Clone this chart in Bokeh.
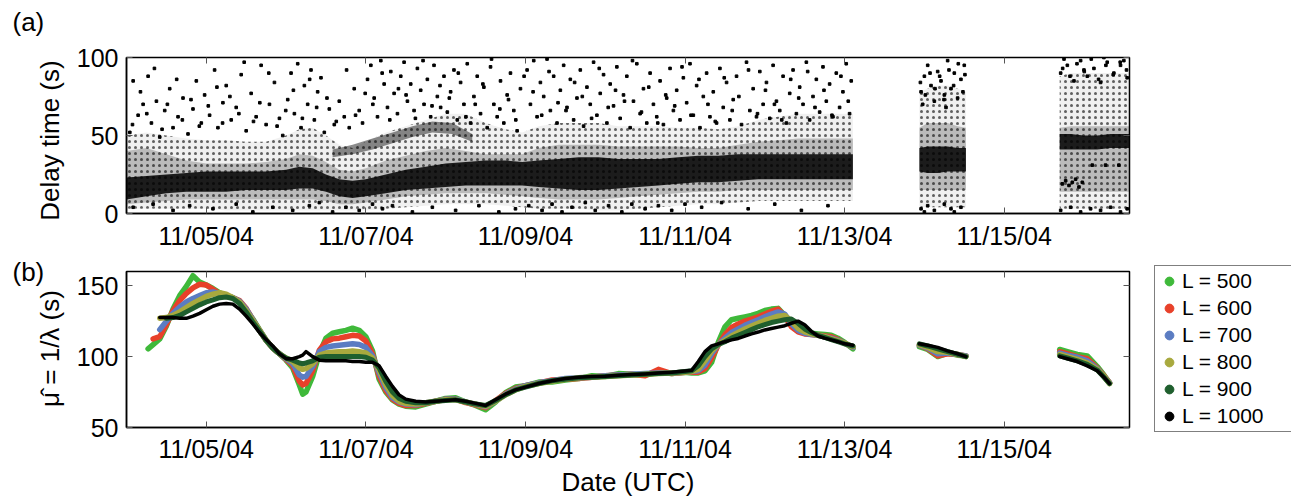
import numpy as np
import pandas as pd
from bokeh.plotting import figure
from bokeh.layouts import column, row
from bokeh.models import (FixedTicker, DatetimeTickFormatter, LinearAxis, DatetimeAxis,
                          Legend, LegendItem, Range1d)
from bokeh.embed import file_html
from bokeh.resources import INLINE

nan = float("nan")
FONT = "Liberation Sans"

# ---------------- data ----------------
# time in hours since 2004-11-04 00:00 UTC
x_ticks_h = [24, 72, 120, 168, 216, 264]
ya_ticks = [0, 50, 100]
yb_ticks = [50, 100, 150]

# Panel (a): density bands of the delay-time cloud (NaN separates data blocks)
band_t = [0, 6, 12, 18, 24, 30, 36, 42, 48, 52, 56, 60, 64, 68, 72, 78, 84, 90, 96, 102,
          108, 114, 119, 124, 130, 136, 142, 148, 154, 160, 166, 172, 178, 184, 190, 196, 202, 208, 214, 218.5,
          nan, 238.5, 241, 244, 247, 250, 252.5,
          nan, 280.7, 284, 288, 292, 296, 300, 301.8]
core_lo = [9, 11, 13, 14, 14, 14, 15, 15, 15, 16, 16, 14, 11, 10, 11, 13, 15, 16, 17, 18,
           18, 18, 18, 17, 16, 15, 15, 16, 17, 18, 19, 20, 20, 21, 22, 22, 22, 22, 22, 22,
           nan, 27, 26, 26, 27, 27, 27,
           nan, 41, 41, 41, 41, 42, 42, 42]
core_hi = [23, 24, 25, 26, 27, 27, 27, 27, 28, 30, 29, 25, 22, 21, 22, 25, 28, 30, 32, 33,
           34, 34, 33, 34, 35, 36, 36, 35, 35, 35, 36, 37, 37, 38, 38, 38, 38, 38, 38, 38,
           nan, 42, 43, 43, 43, 42, 42,
           nan, 51, 51, 50, 50, 51, 51, 51]
mid_lo = [6, 7, 8, 9, 9, 9, 9, 9, 9, 9, 9, 8, 6, 6, 7, 9, 11, 12, 13, 13,
          13, 12, 11, 10, 9, 9, 9, 10, 11, 12, 13, 14, 14, 15, 15, 15, 15, 15, 15, 15,
          nan, 15, 15, 15, 15, 15, 15,
          nan, 14, 14, 14, 14, 14, 14, 14]
mid_hi = [40, 42, 38, 34, 32, 32, 32, 33, 35, 38, 37, 33, 28, 27, 29, 34, 37, 40, 42, 40,
          38, 38, 38, 42, 44, 44, 44, 43, 43, 43, 43, 42, 42, 44, 46, 47, 48, 48, 48, 48,
          nan, 55, 58, 58, 58, 56, 55,
          nan, 55, 56, 56, 56, 56, 56, 56]
halo_lo = [3, 3, 3, 3, 3, 2, 2, 2, 2, 2, 2, 2, 2, 2, 2, 3, 4, 5, 6, 6,
           6, 5, 4, 3, 3, 3, 2, 2, 3, 4, 5, 6, 6, 7, 8, 8, 8, 8, 8, 8,
           nan, 4, 4, 4, 4, 4, 4,
           nan, 3, 3, 3, 3, 3, 3, 3]
halo_hi = [50, 52, 50, 48, 47, 47, 46, 46, 50, 54, 55, 50, 44, 42, 46, 52, 56, 60, 64, 64,
           58, 54, 52, 56, 58, 58, 58, 56, 56, 56, 55, 55, 54, 56, 60, 62, 64, 64, 64, 64,
           nan, 78, 80, 82, 82, 80, 78,
           nan, 88, 90, 90, 90, 90, 90, 90]
streak_t = [62, 68, 74, 80, 86, 92, 98, 104]
streak_lo = [36, 38, 41, 45, 49, 52, 51, 46]
streak_hi = [41, 44, 48, 52, 56, 59, 58, 51]

# Panel (a): scattered individual delays (hours, seconds)
out_t = [1, 2, 3.5, 5, 6.5, 7.5, 9, 10, 11.5, 13, 14, 15.5, 17, 18.5, 20, 21, 22.5, 23.5,
         25, 26.5, 27.5, 29, 30, 31.5, 33, 34.5, 36, 37.5, 39, 40.5, 42, 43, 44.5, 46, 47,
         48.5, 49.5, 50.5, 51.5, 52.5, 53.5, 54.5, 55.5, 56.5, 57.5, 58.5, 59.5, 61, 62.5, 64, 65.5, 67, 68.5, 70, 71,
         72.5, 73.5, 74.5, 75.5, 76.5, 77.5, 78.5, 79.5, 80.5, 81.5, 82.5, 83.5, 84.5, 85.5, 86.5, 87.5, 88.5, 89.5,
         90.5, 91.5, 92.5, 93.5, 94.5, 95.5,
         96.5, 97.5, 98.5, 99.5, 100.5, 101.5, 102.5, 103.5, 104.5, 105.5, 106.5, 107.5, 108.5, 109.5, 110.5,
         111.5, 112.5, 113.5, 114.5, 115.5, 116.5, 117.5, 118.5,
         120.5, 121.5, 122.5, 123.5, 124.5, 125.5, 126.5, 127.5, 128.5, 129.5, 130.5, 131.5, 132.5, 133.5,
         134.5, 135.5, 136.5, 137.5, 138.5, 139.5, 140.5, 141.5, 142.5, 143.5,
         144.5, 145.5, 146.5, 147.5, 148.5, 149.5, 150.5, 151.5, 152.5, 153.5, 154.5, 155.5, 156.5, 157.5,
         158.5, 159.5, 160.5, 161.5, 162.5, 163.5, 164.5, 165.5, 166.5, 167.5,
         168.5, 169.5, 170.5, 171.5, 172.5, 173.5, 174.5, 175.5, 176.5, 177.5, 178.5, 179.5, 180.5, 181.5,
         182.5, 183.5, 185, 186.5, 187.5, 188.5, 189.5, 190.5, 191.5,
         192.5, 193.5, 194.5, 195.5, 196.5, 197.5, 198.5, 199.5, 200.5, 201.5, 202.5, 203.5, 204.5, 205.5,
         206.5, 207.5, 208.5, 209.5, 210.5, 211.5, 212.5, 213.5, 214.5, 215.5, 216.5, 217.5, 218,
         2, 8, 14, 19, 26, 33, 38, 44, 50, 55, 58, 62, 66, 70, 74, 77, 80, 86, 92, 99, 106, 112, 117,
         121, 125, 128, 131, 134, 138, 141, 145, 149, 152, 156, 160, 164, 168, 173, 179, 187, 195, 203, 211,
         239, 240, 241, 242, 243, 244, 245, 246, 247, 248, 249, 250, 251, 252, 239.5, 246.5,
         239, 241, 243, 246, 249, 251, 240, 248,
         281, 283, 285, 287, 289, 291, 293, 295, 297, 299, 301, 282, 288, 294, 300,
         281, 284, 287, 290, 293, 296, 299, 301,
         281.5, 282.5, 283.5, 284.5, 285.5, 286.5, 287.5, 290.5, 294.5, 298.5]
out_v = [52, 85, 63, 70, 88, 58, 72, 49, 66, 80, 55, 62, 74, 51, 67, 85, 58, 76,
         63, 92, 55, 71, 82, 60, 68, 89, 53, 77, 62, 95, 57, 70, 84, 61, 50,
         73, 90, 64, 96, 55, 82, 70, 92, 60, 78, 87, 52, 67, 57, 72, 62, 55, 80, 66, 58,
         86, 95, 74, 62, 98, 83, 68, 91, 77, 64, 88, 97, 72, 83, 66, 93, 79, 70,
         86, 62, 95, 75, 68, 88,
         65, 78, 92, 60, 84, 70, 96, 58, 75, 88, 64, 81, 55, 94, 70,
         62, 85, 58, 76, 90, 66, 53, 80,
         92, 70, 98, 62, 84, 75, 99, 66, 88, 58, 79, 95, 68, 86,
         60, 74, 92, 56, 81, 70, 97, 63, 77, 89,
         58, 83, 69, 94, 61, 76, 88, 55, 72, 96, 64, 80, 58, 90,
         70, 62, 85, 57, 74, 93, 66, 79, 60, 87,
         71, 96, 63, 82, 55, 75, 90, 62, 78, 58, 93, 68, 84, 60,
         73, 88, 57, 97, 66, 80, 62, 91, 70,
         84, 61, 95, 72, 66, 88, 58, 77, 92, 64, 81, 70, 97, 60,
         75, 86, 65, 94, 72, 83, 62, 90, 68, 78, 96, 64, 85,
         4, 6, 2, 5, 3, 6, 1, 4, 2, 5, 7, 1, 4, 2, 6, 3, 5, 1, 4, 2, 5, 1, 3,
         5, 2, 6, 1, 4, 7, 2, 5, 1, 6, 3, 5, 2, 6, 4, 7, 3, 6, 2, 5,
         78, 88, 95, 82, 72, 91, 85, 76, 98, 80, 90, 74, 86, 95, 70, 68,
         3, 5, 2, 6, 1, 4, 1, 3,
         90, 95, 85, 98, 88, 93, 84, 97, 90, 95, 87, 99, 92, 100, 98,
         2, 4, 1, 3, 2, 4, 1, 3,
         19, 21, 18, 20, 22, 17, 20, 31, 31, 31]
extra_t = [1.8, 4.2, 6.1, 8.4, 10.7, 12.3, 15.1, 16.8, 19.4, 21.9,
           24.6, 27.2, 28.9, 31.1, 33.8, 35.4, 38.2, 40.1, 42.8, 45.3,
           47.9, 50.2, 52.9, 55.1, 57.2, 60.3, 63.1, 66.2, 68.9, 71.8,
           74.1, 76.9, 79.2, 81.8, 84.1, 86.9, 89.2, 91.9, 94.3, 97.1,
           99.8, 102.1, 104.9, 107.2, 109.8, 112.3, 114.9, 117.1, 119.6, 122.3,
           124.9, 127.1, 129.8, 132.2, 134.8, 137.1, 139.9, 142.2, 144.9, 147.1,
           149.8, 152.2, 154.9, 157.1, 159.8, 162.2, 164.9, 167.1, 169.8, 172.2,
           174.9, 177.1, 179.8, 182.2, 184.2, 187.1, 189.8, 192.2, 194.9, 197.1,
           199.8, 202.2, 204.9, 207.1, 209.8, 212.2, 214.9, 217.1,
           238.8, 240.3, 241.7, 243.2, 244.6, 245.9, 247.4, 248.8, 250.2, 251.6, 252.2,
           281.6, 283.8, 285.9, 288.1, 290.2, 292.4, 294.6, 296.8, 298.9, 300.8]
extra_v = [57, 78, 64, 93, 54, 70, 86, 60, 73, 56,
           69, 81, 58, 75, 64, 97, 59, 71, 90, 56,
           66, 79, 61, 86, 68, 74, 59, 92, 63, 77,
           70, 90, 60, 80, 76, 61, 98, 69, 82, 74,
           90, 62, 70, 83, 99, 67, 73, 60, 88, 78,
           63, 91, 71, 66, 84, 75, 61, 93, 68, 79,
           72, 98, 65, 81, 58, 76, 69, 94, 63, 86,
           70, 59, 87, 66, 75, 92, 64, 79, 70, 60,
           86, 74, 91, 68, 79, 63, 88, 72,
           84, 76, 90, 80, 88, 73, 92, 82, 96, 78, 89,
           93, 88, 96, 91, 99, 86, 95, 89, 97, 92]

# Panel (b): estimated mean inter-arrival time for each window length L (NaN = no data)
b_t = [6.5, 8, 10, 12, 14, 16, 18, 20, 22, 24,
       26, 28, 30, 32, 34, 36, 38, 40, 42, 44,
       46, 48, 50, 52, 53, 54, 56, 58, 60, 62,
       64, 66, 68, 70, 72, 74, 76, 78, 80, 82,
       84, 87, 90, 93, 96, 99, 102, 105, 108, 111,
       114, 117, 120, 124, 128, 132, 136, 140, 144, 148,
       152, 156, 160, 164, 168, 170, 172, 174, 176, 178,
       180, 182, 184, 186, 188, 190, 192, 194, 196, 198,
       200, 202, 204, 206, 208, 210, 212, 214, 216, 218.5,
       nan, 238.5, 241, 244, 247, 250, 252.5,
       nan, 280.7, 283, 286, 289, 292, 294, 295.7]
mu_L500 = [105.5, 108.5, 112.5, 121.5, 133.5, 143, 149.5, 157, 152.5, 150.5,
           148, 145, 143, 141.5, 139, 133, 126.5, 119, 111.5, 106,
           102, 97.5, 92, 80, 73.5, 75, 86, 102, 113, 116.5,
           117.5, 118.5, 120, 118.5, 114, 104, 84, 75, 69.5, 66.5,
           65, 64.5, 66.5, 68.5, 70.5, 71, 68, 65.5, 62.5, 68,
           74.5, 78.5, 79.5, 82, 82, 83.5, 84.5, 86.5, 86, 88,
           87.5, 87, 89, 88, 89, 88.5, 88.5, 90, 96, 110,
           121, 126, 127, 128, 129, 130.5, 132.5, 133.5, 134, 129,
           122, 118, 117, 116.5, 116, 115.5, 115, 113, 110, 105.5,
           nan, 107, 105, 100, 102.5, 101, 100.5,
           nan, 105, 103.5, 101.5, 100.5, 93, 87, 81.5]
mu_L600 = [nan, 112.5, 114, 122.5, 132.5, 139.5, 144.5, 148.5, 151, 150.5,
           147.5, 144.5, 142.5, 141.5, 139.5, 134, 126, 118.5, 111.5, 106,
           102, 98, 93.5, 82.5, 80, 81, 90, 104.5, 110.5, 112.5,
           113, 114, 115, 114.5, 111, 102, 86, 76, 70, 67,
           65.5, 65.5, 67, 68.5, 70, 70, 67.5, 66, 64, 69,
           74, 77.5, 79.5, 81.5, 83.5, 84, 84.5, 85.5, 86.5, 87,
           87.5, 86.5, 91, 88, 89, 89, 89, 91.5, 99, 108,
           115.5, 120.5, 123, 125, 126.5, 128, 130, 132, 133.5, 128.5,
           121, 117.5, 116, 115.5, 115, 114.5, 114, 112, 109.5, 106.5,
           nan, 108, 105.5, 100.5, 102, 101.5, 100.5,
           nan, 103.5, 102, 100, 98.5, 92, 86.5, 81.5]
mu_L700 = [nan, nan, 119, 125, 130.5, 135, 138.5, 141, 143, 145,
           145.5, 144.5, 143, 141.5, 139, 133.5, 126, 118.5, 111.5, 106,
           102, 98.5, 95, 87, 85.5, 86, 93, 103.5, 106.5, 107.5,
           108, 108.5, 109, 108.5, 106.5, 100.5, 88.5, 78, 71, 68,
           66.5, 66, 67.5, 68.5, 70, 70, 68, 66.5, 64.5, 68.5,
           73.5, 77, 79.5, 81.5, 83, 84.5, 85, 85.5, 86.5, 87,
           87.5, 88, 88.5, 88.5, 89, 89.5, 90, 94, 102, 108.5,
           113, 117, 119.5, 122, 124, 126, 128, 130, 131.5, 130,
           123, 118.5, 116.5, 115.5, 115, 114, 113, 111.5, 109.5, 106.5,
           nan, 108, 106, 102, 102.5, 101.5, 100.5,
           nan, 102.5, 101, 99.5, 97, 91.5, 86, 81.5]
mu_L800 = [nan, nan, 127, 127.5, 129, 131.5, 134.5, 137.5, 140, 142.5,
           144, 145, 144, 141.5, 138.5, 132.5, 125.5, 118.5, 111.5, 106,
           102, 99, 96.5, 92, 91, 91.5, 95, 101, 102.5, 103,
           103.5, 103.5, 104, 103.5, 102.5, 99, 90.5, 80, 72.5, 68.5,
           67, 66.5, 67.5, 68.5, 69.5, 69.5, 68, 66.5, 65, 68.5,
           73, 76.5, 79, 81, 82.5, 84, 85, 85.5, 86, 86.5,
           87, 87.5, 88, 88.5, 89, 89.5, 91, 97, 104, 108.5,
           111.5, 114.5, 117, 119.5, 121.5, 123.5, 125.5, 127, 128.5, 129,
           125, 120, 117.5, 116, 115, 114, 112.5, 111, 109.5, 107,
           nan, 108.5, 106.5, 103.5, 103, 101.5, 100,
           nan, 101.5, 100, 98, 95.5, 91, 86, 81]
mu_L900 = [nan, nan, nan, 127, 127.5, 129, 131.5, 134, 136.5, 138.5,
           140, 141.5, 142, 141, 137.5, 131.5, 124.5, 118, 111.5, 106,
           102, 99, 97.5, 95.5, 95, 95.5, 97, 99.5, 100, 100,
           100, 100, 100, 100, 99.5, 97.5, 92, 82.5, 75, 70.5,
           68.5, 67.5, 67.5, 68.5, 69, 69.5, 68, 66.5, 65.5, 69,
           73, 76.5, 78.5, 81, 83, 84, 85, 85.5, 86, 86.5,
           87, 87.5, 88, 88.5, 89.5, 90, 93.5, 100, 105.5, 108.5,
           110.5, 113, 115, 117, 119, 121, 122.5, 124, 125, 126,
           126.5, 123.5, 119.5, 117, 115, 113.5, 112, 110.5, 109, 107.5,
           nan, 109, 107.5, 105.5, 103.5, 101.5, 100,
           nan, 100.5, 99, 97, 94.5, 90.5, 85.5, 81]
mu_L1000 = [nan, nan, 127.5, 127.5, 127.5, 127, 127, 128.5, 130.5, 133,
            135.5, 137, 137.5, 137, 133.5, 128.5, 123, 117, 112, 107.5,
            102, 98.5, 98.5, 100, 101, 103.5, 100, 97.5, 97, 97,
            97, 97, 96.5, 96.5, 96, 96, 93.5, 86, 79, 73,
            70, 68.5, 68, 68.5, 69, 69.5, 68.5, 67, 65.5, 69.5,
            73.5, 76.5, 78.5, 81, 83, 84.5, 85.5, 86, 86.2, 86.8,
            87.3, 87.8, 88.4, 89, 89.8, 90.3, 96.5, 103.5, 107.5, 109,
            110.5, 111.8, 112.8, 114.5, 116, 117.3, 118.8, 119.8, 120.8, 121.8,
            123.5, 125, 122.5, 117.8, 114.5, 113, 111.8, 110.5, 109, 108,
            nan, 109, 108, 106.5, 104, 102, 100,
            nan, 100, 98.5, 96.5, 93.5, 90, 85.5, 81]

series_labels = ["L = 500", "L = 600", "L = 700", "L = 800", "L = 900", "L = 1000"]
series_values = [mu_L500, mu_L600, mu_L700, mu_L800, mu_L900, mu_L1000]
series_colors = ["#3FB93A", "#E8412A", "#5B7CC2", "#A8A93E", "#1F5F2E", "#000000"]
series_widths = [5.5, 5.5, 5.5, 5.5, 5, 3.5]
legend_sizes = [7, 7, 7, 7, 7, 4]

# ---------------- helpers ----------------
BASE = pd.Timestamp("2004-11-04 00:00").value / 1e6
HOUR = 3600000.0


def tx(h):
    return BASE + np.asarray(h, dtype=float) * HOUR


def segments(t):
    t = np.asarray(t, dtype=float)
    idx = list(np.where(np.isnan(t))[0])
    b = [-1] + idx + [len(t)]
    return [(b[i] + 1, b[i + 1]) for i in range(len(b) - 1)]


X0, X1 = tx(0), tx(301.7)
fmt = DatetimeTickFormatter(days="%m/%d/%y", months="%m/%d/%y", hours="%m/%d/%y",
                            hourmin="%m/%d/%y", minutes="%m/%d/%y", years="%m/%d/%y")


def style(p, yticks):
    p.xgrid.visible = False
    p.ygrid.visible = False
    p.outline_line_color = "black"
    p.outline_line_width = 1.5
    p.outline_line_alpha = 1
    p.background_fill_color = "white"
    p.border_fill_color = "white"
    xa, ya = p.xaxis[0], p.yaxis[0]
    xa.ticker = FixedTicker(ticks=list(tx(x_ticks_h)))
    xa.formatter = fmt
    ya.ticker = FixedTicker(ticks=yticks)
    for ax in [xa, ya]:
        ax.major_label_text_font = FONT
        ax.major_label_text_font_size = "25px"
        ax.major_label_text_color = "black"
        ax.axis_label_text_font = FONT
        ax.axis_label_text_font_size = "26px"
        ax.axis_label_text_font_style = "normal"
        ax.axis_label_text_color = "black"
        ax.major_tick_in = 6
        ax.major_tick_out = 0
        ax.minor_tick_in = 0
        ax.minor_tick_out = 0
        ax.axis_line_color = "black"
        ax.axis_line_width = 1.5
        ax.major_tick_line_color = "#555555"
    xa.major_label_standoff = 8
    ya.major_label_standoff = 8
    top = DatetimeAxis(ticker=FixedTicker(ticks=list(tx(x_ticks_h))), formatter=fmt,
                       major_label_text_font_size="1px", major_label_text_color=None,
                       major_tick_in=6, major_tick_out=0,
                       minor_tick_in=0, minor_tick_out=0, axis_line_color=None,
                       major_tick_line_color="#555555", major_label_standoff=0)
    p.add_layout(top, "above")
    right = LinearAxis(ticker=FixedTicker(ticks=yticks), major_label_text_font_size="1px",
                       major_label_text_color=None,
                       major_tick_in=6, major_tick_out=0, minor_tick_in=0, minor_tick_out=0,
                       axis_line_color=None, major_tick_line_color="#555555", major_label_standoff=0)
    p.add_layout(right, "right")
    return xa, ya


GUT = 72      # left strip: panel letters and y titles
RSTRIP = 138  # right strip: legend
MAIN_W = 1291 - GUT - RSTRIP
GUT_FRAME_LEFT = 65

# ---------------- panel (a) ----------------
pa = figure(width=MAIN_W, height=252, x_axis_type="datetime", output_backend="svg",
            toolbar_location=None, x_range=Range1d(X0, X1), y_range=Range1d(0, 100),
            min_border_left=126 - GUT, min_border_right=GUT + MAIN_W - 1130,
            min_border_top=57, min_border_bottom=39)
style(pa, ya_ticks)

bt = np.asarray(band_t, float)
for (s, e) in segments(band_t):
    xs = tx(bt[s:e])
    pa.varea(x=xs, y1=np.asarray(halo_lo[s:e], float), y2=np.asarray(halo_hi[s:e], float),
             fill_color="black", fill_alpha=0.06, hatch_pattern="dot", hatch_color="black",
             hatch_scale=6, hatch_weight=1.4, hatch_alpha=0.6)
    pa.varea(x=xs, y1=np.asarray(mid_lo[s:e], float), y2=np.asarray(mid_hi[s:e], float),
             fill_color="black", fill_alpha=0.22)
    pa.varea(x=xs, y1=np.asarray(core_lo[s:e], float), y2=np.asarray(core_hi[s:e], float),
             fill_color="black", fill_alpha=0.85)
pa.varea(x=tx(streak_t), y1=streak_lo, y2=streak_hi, fill_color="black", fill_alpha=0.45)
pa.scatter(x=tx(out_t), y=out_v, marker="square", size=2.6, color="black")
pa.scatter(x=tx(extra_t), y=extra_v, marker="square", size=2.6, color="black")

# ---------------- panel (b) ----------------
pb = figure(width=MAIN_W, height=247, x_axis_type="datetime", output_backend="svg",
            toolbar_location=None, x_range=Range1d(X0, X1), y_range=Range1d(50, 160),
            min_border_left=126 - GUT, min_border_right=GUT + MAIN_W - 1129,
            min_border_top=19, min_border_bottom=72)
xb_axis, yb_axis = style(pb, yb_ticks)
xb_axis.axis_label = "Date (UTC)"
xb_axis.axis_label_standoff = 1
xb_axis.major_label_standoff = 7

xb = tx(b_t)
for vals, col, w in zip(series_values, series_colors, series_widths):
    pb.line(x=xb, y=np.asarray(vals, float), line_color=col, line_width=w,
            line_join="round", line_cap="round")

# ---------------- right strip: legend ----------------
lg = figure(width=RSTRIP, height=499, output_backend="svg", toolbar_location=None,
            x_axis_location=None, y_axis_location=None, min_border=0,
            x_range=Range1d(0, 1), y_range=Range1d(0, 1))
lg.outline_line_color = None
lg.grid.visible = False
items = []
for lab, col, ms in zip(series_labels, series_colors, legend_sizes):
    dummy = lg.scatter(x=[nan], y=[nan], marker="circle", size=ms, fill_color=col, line_color=col)
    items.append(LegendItem(label=lab, renderers=[dummy]))
leg = Legend(items=items, location=(1, 499 - 432), border_line_color="black", border_line_width=1.5,
             background_fill_color="white", background_fill_alpha=1.0,
             label_text_font=FONT, label_text_font_size="21px", label_text_color="black",
             glyph_width=22, glyph_height=24, label_height=24, label_width=106,
             spacing=3, padding=3, margin=0, label_standoff=2)
lg.add_layout(leg)


# ---------------- left strip: panel letters (titles) and y titles (axis labels) ----------------
def side_box(height, letter, letter_bottom, label, centre):
    # empty strip: its title carries the panel letter, its own y axis carries the panel's y title
    frame_top = letter_bottom + 1
    frame_bottom = 2 * centre - frame_top
    f = figure(width=GUT, height=height, output_backend="svg", toolbar_location=None,
               x_axis_location=None, y_axis_location="left", title=letter,
               min_border_left=GUT_FRAME_LEFT, min_border_right=0, min_border_top=frame_top,
               min_border_bottom=height - frame_bottom,
               x_range=Range1d(0, 1), y_range=Range1d(0, 1))
    f.outline_line_color = None
    f.grid.visible = False
    f.title.align = "left"
    f.title.offset = 12 - GUT_FRAME_LEFT
    f.title.standoff = 2
    f.title.vertical_align = "bottom"
    f.title.text_font = FONT
    f.title.text_font_size = "26px"
    f.title.text_font_style = "normal"
    f.title.text_color = "black"
    ax = f.yaxis[0]
    ax.ticker = FixedTicker(ticks=[])
    ax.major_label_text_font_size = "1px"
    ax.major_label_text_color = None
    ax.major_label_standoff = 0
    ax.major_tick_in = 0
    ax.major_tick_out = 0
    ax.minor_tick_in = 0
    ax.minor_tick_out = 0
    ax.axis_line_color = None
    ax.axis_label = label
    ax.axis_label_text_font = FONT
    ax.axis_label_text_font_size = "26px"
    ax.axis_label_text_font_style = "normal"
    ax.axis_label_text_color = "black"
    ax.axis_label_standoff = 1
    return f


gA = side_box(252, "(a)", 36, "Delay time (s)", 140)
gB = side_box(247, "(b)", 286 - 252, "\u03bc\u0302 = 1/\u03bb (s)", 348 - 252)
gutter = column(gA, gB, spacing=0)

layout = row(gutter, column(pa, pb, spacing=0), lg, spacing=0)
open("out.html", "w").write(file_html(layout, INLINE))
